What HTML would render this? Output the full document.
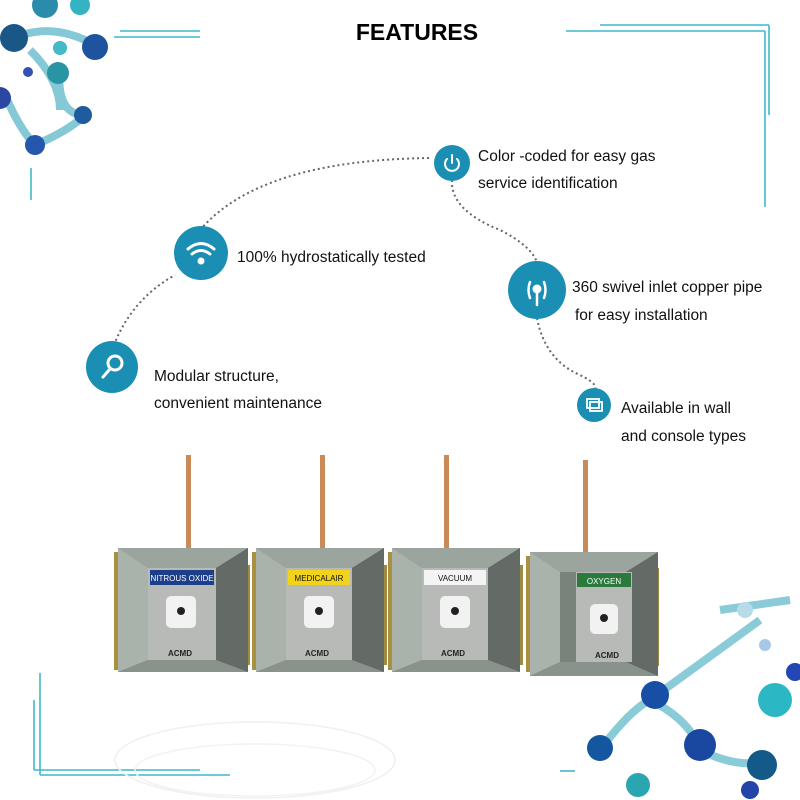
<!DOCTYPE html>
<html><head><meta charset="utf-8"><style>
body{margin:0;background:#fff}
svg{display:block}
text{font-family:"Liberation Sans",Arial,sans-serif}
</style></head><body>
<svg width="800" height="800" viewBox="0 0 800 800" xmlns="http://www.w3.org/2000/svg">
<!-- decor top-left molecules -->
<g opacity="0.95">
<path d="M10 40 Q50 20 95 45 M30 50 Q60 80 60 110 M60 65 Q55 115 85 115 M5 95 Q20 130 35 145 M35 145 Q70 130 85 115" stroke="#2aa0b8" stroke-width="8" fill="none" opacity="0.6"/>
<circle cx="14" cy="38" r="14" fill="#0e4f80"/>
<circle cx="95" cy="47" r="13" fill="#124a9a"/>
<circle cx="58" cy="73" r="11" fill="#1d8fa0"/>
<circle cx="83" cy="115" r="9" fill="#13549a"/>
<circle cx="35" cy="145" r="10" fill="#1a4fa8"/>
<circle cx="28" cy="72" r="5" fill="#2c48b0"/>
<circle cx="60" cy="48" r="7" fill="#3ab6c6"/>
<circle cx="0" cy="98" r="11" fill="#1f3f9c"/>
<circle cx="45" cy="5" r="13" fill="#1f86a6"/>
<circle cx="80" cy="5" r="10" fill="#2ab0c0"/>
</g>
<!-- decor bottom-right molecules -->
<g>
<path d="M600 750 Q630 710 650 700 Q690 720 700 750 Q740 770 770 760 M650 700 L760 620 M720 610 L790 600" stroke="#2aa0b8" stroke-width="8" fill="none" opacity="0.55"/>
<circle cx="655" cy="695" r="14" fill="#174fa4"/>
<circle cx="700" cy="745" r="16" fill="#1a48a0"/>
<circle cx="600" cy="748" r="13" fill="#1456a0"/>
<circle cx="762" cy="765" r="15" fill="#145a88"/>
<circle cx="775" cy="700" r="17" fill="#2bb8c4"/>
<circle cx="795" cy="672" r="9" fill="#2346b4"/>
<circle cx="638" cy="785" r="12" fill="#2aa6b0"/>
<circle cx="745" cy="610" r="8" fill="#b7dbe8"/>
<circle cx="765" cy="645" r="6" fill="#a8c8e8"/>
<circle cx="750" cy="790" r="9" fill="#2344a8"/>
</g>
<!-- frame lines -->
<g stroke="#3fb9c8" stroke-width="1.6" fill="none">
<line x1="120" y1="31" x2="200" y2="31"/><line x1="114" y1="37" x2="200" y2="37"/>
<line x1="31" y1="168" x2="31" y2="200"/>
<line x1="600" y1="25" x2="769" y2="25"/><line x1="566" y1="31" x2="765" y2="31"/>
<line x1="769" y1="25" x2="769" y2="115"/><line x1="765" y1="31" x2="765" y2="207"/>
<line x1="40" y1="673" x2="40" y2="775"/><line x1="34" y1="700" x2="34" y2="770"/>
<line x1="40" y1="775" x2="230" y2="775"/><line x1="34" y1="770" x2="200" y2="770"/>
<line x1="560" y1="771" x2="575" y2="771"/>
</g>
<ellipse cx="255" cy="760" rx="140" ry="38" fill="none" stroke="#f0f0f0" stroke-width="1.5"/>
<ellipse cx="255" cy="770" rx="120" ry="26" fill="none" stroke="#f2f2f2" stroke-width="1.5"/>
<text x="417" y="40" font-size="23" font-weight="bold" text-anchor="middle" fill="#000">FEATURES</text>
<!-- dotted path -->
<path d="M112 350 Q130 300 175 275 M200 230 Q260 160 430 158 M452 180 Q450 210 500 230 Q530 245 537 262 M537 318 Q545 360 580 375 Q600 385 594 390" stroke="#666" stroke-width="2" stroke-dasharray="2 3" fill="none"/>
<g fill="#1a8fb3">
<circle cx="201" cy="253" r="27"/><circle cx="112" cy="367" r="26"/>
<circle cx="452" cy="163" r="18"/><circle cx="537" cy="290" r="29"/><circle cx="594" cy="405" r="17"/>
</g>
<g stroke="#fff" fill="none" stroke-width="3" stroke-linecap="round">
<path d="M188 249 Q201 238 214 249 M192 254 Q201 247 210 254"/><circle cx="201" cy="261" r="2" fill="#fff"/>
<circle cx="115" cy="363" r="7"/><line x1="110" y1="369" x2="103" y2="377"/>
<path d="M447 159 A7 7 0 1 0 457 159 M452 155 L452 163" stroke-width="2"/>
<path d="M530 282 Q527 290 530 298 M544 282 Q547 290 544 298 M537 292 L537 305" stroke-width="2.5"/><circle cx="537" cy="289" r="3" fill="#fff"/>
<rect x="587" y="399" width="12" height="9" stroke-width="1.8"/><rect x="590" y="402" width="12" height="9" stroke-width="1.8"/>
</g>
<g font-size="15.5" fill="#111">
<text x="237" y="262">100% hydrostatically tested</text>
<text x="154" y="381">Modular structure,</text>
<text x="154" y="408">convenient maintenance</text>
<text x="478" y="161">Color -coded for easy gas</text>
<text x="478" y="188">service identification</text>
<text x="572" y="292">360 swivel inlet copper pipe</text>
<text x="575" y="320">for easy installation</text>
<text x="621" y="413">Available in wall</text>
<text x="621" y="441">and console types</text>
</g>
<!-- products -->
<g>
<rect x="186" y="455" width="5" height="95" fill="#c98a5a"/>
<rect x="114" y="552" width="10" height="118" fill="#a89040"/>
<rect x="234" y="565" width="16" height="100" fill="#9e8a40"/>
<polygon points="118,548 248,548 248,672 118,672" fill="#7a827c"/>
<polygon points="118,548 248,548 216,568 148,568" fill="#9ca49e"/>
<polygon points="118,548 148,568 148,660 118,672" fill="#aab2ac"/>
<polygon points="248,548 216,568 216,660 248,672" fill="#646b66"/>
<polygon points="118,672 148,660 216,660 248,672" fill="#8a928c"/>
<rect x="148" y="568" width="68" height="92" fill="#b8bab8"/>
<rect x="150" y="570" width="64" height="15" fill="#1d3f8a"/>
<text x="182" y="581" font-size="8" fill="#fff" text-anchor="middle">NITROUS OXIDE</text>
<rect x="166" y="596" width="30" height="32" rx="5" fill="#f2f2f2"/>
<circle cx="181" cy="611" r="4" fill="#222"/>
<text x="168" y="656" font-size="8" font-weight="bold" fill="#222">ACMD</text>
</g>
<g>
<rect x="320" y="455" width="5" height="95" fill="#c98a5a"/>
<rect x="252" y="552" width="10" height="118" fill="#a89040"/>
<rect x="371" y="565" width="16" height="100" fill="#9e8a40"/>
<polygon points="256,548 384,548 384,672 256,672" fill="#7a827c"/>
<polygon points="256,548 384,548 352,568 286,568" fill="#9ca49e"/>
<polygon points="256,548 286,568 286,660 256,672" fill="#aab2ac"/>
<polygon points="384,548 352,568 352,660 384,672" fill="#646b66"/>
<polygon points="256,672 286,660 352,660 384,672" fill="#8a928c"/>
<rect x="286" y="568" width="66" height="92" fill="#b8bab8"/>
<rect x="288" y="570" width="62" height="15" fill="#f2d21a"/>
<text x="319" y="581" font-size="8" fill="#111" text-anchor="middle">MEDICALAIR</text>
<rect x="304" y="596" width="30" height="32" rx="5" fill="#f2f2f2"/>
<circle cx="319" cy="611" r="4" fill="#222"/>
<text x="305" y="656" font-size="8" font-weight="bold" fill="#222">ACMD</text>
</g>
<g>
<rect x="444" y="455" width="5" height="95" fill="#c98a5a"/>
<rect x="388" y="552" width="10" height="118" fill="#a89040"/>
<rect x="507" y="565" width="16" height="100" fill="#9e8a40"/>
<polygon points="392,548 520,548 520,672 392,672" fill="#7a827c"/>
<polygon points="392,548 520,548 488,568 422,568" fill="#9ca49e"/>
<polygon points="392,548 422,568 422,660 392,672" fill="#aab2ac"/>
<polygon points="520,548 488,568 488,660 520,672" fill="#646b66"/>
<polygon points="392,672 422,660 488,660 520,672" fill="#8a928c"/>
<rect x="422" y="568" width="66" height="92" fill="#b8bab8"/>
<rect x="424" y="570" width="62" height="15" fill="#f4f4f4"/>
<text x="455" y="581" font-size="8" fill="#111" text-anchor="middle">VACUUM</text>
<rect x="440" y="596" width="30" height="32" rx="5" fill="#f2f2f2"/>
<circle cx="455" cy="611" r="4" fill="#222"/>
<text x="441" y="656" font-size="8" font-weight="bold" fill="#222">ACMD</text>
</g>
<g>
<rect x="583" y="460" width="5" height="95" fill="#c98a5a"/>
<rect x="526" y="556" width="10" height="116" fill="#a89040"/>
<rect x="645" y="568" width="14" height="98" fill="#9e8a40"/>
<polygon points="530,552 658,552 658,676 530,676" fill="#7a827c"/>
<polygon points="530,552 658,552 626,572 560,572" fill="#9ca49e"/>
<polygon points="530,552 560,572 560,662 530,676" fill="#aab2ac"/>
<polygon points="658,552 626,572 626,662 658,676" fill="#646b66"/>
<polygon points="530,676 560,662 626,662 658,676" fill="#8a928c"/>
<rect x="576" y="572" width="56" height="90" fill="#b8bab8"/>
<rect x="577" y="573" width="54" height="14" fill="#2a7a3e"/>
<text x="604" y="584" font-size="8" fill="#fff" text-anchor="middle">OXYGEN</text>
<rect x="590" y="604" width="28" height="30" rx="5" fill="#f2f2f2"/>
<circle cx="604" cy="618" r="4" fill="#222"/>
<text x="595" y="658" font-size="8" font-weight="bold" fill="#222">ACMD</text>
</g>
</svg>
</body></html>
